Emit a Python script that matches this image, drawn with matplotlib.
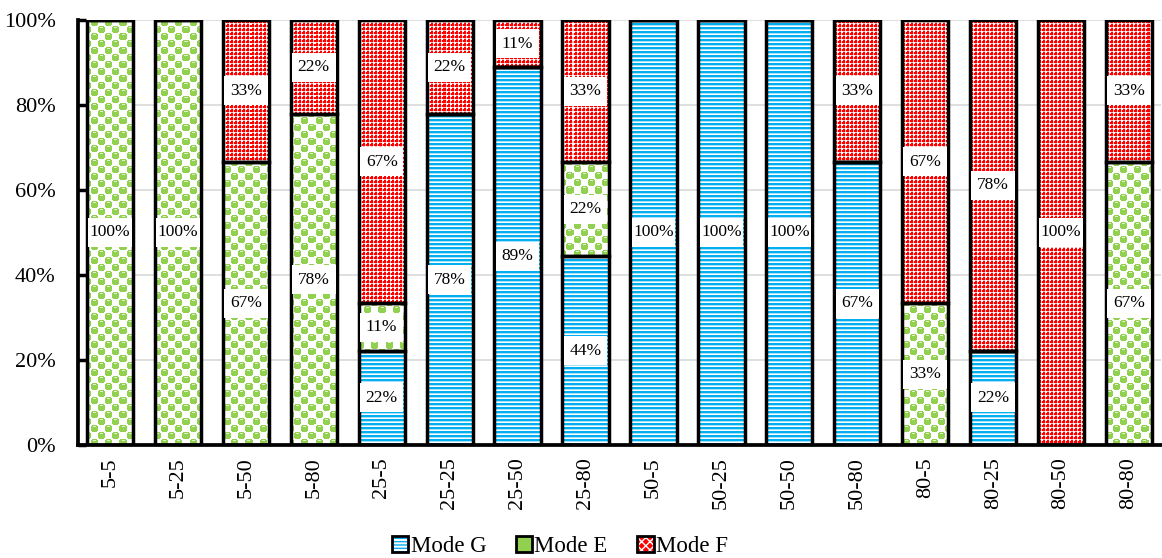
import matplotlib
matplotlib.use("Agg")
import matplotlib.pyplot as plt
from matplotlib.patches import Patch, Rectangle
from matplotlib.colors import to_rgb
from matplotlib.legend_handler import HandlerTuple
import numpy as np

plt.rcParams['font.family'] = ['Liberation Serif', 'DejaVu Serif']

categories = ["5-5", "5-25", "5-50", "5-80", "25-5", "25-25", "25-50", "25-80",
              "50-5", "50-25", "50-50", "50-80", "80-5", "80-25", "80-50", "80-80"]
mode_g = [0, 0, 0, 0, 22.2, 77.8, 88.9, 44.4, 100, 100, 100, 66.7, 0, 22.2, 0, 0]
mode_e = [100, 100, 66.7, 77.8, 11.1, 0, 0, 22.2, 0, 0, 0, 0, 33.3, 0, 0, 66.7]
mode_f = [0, 0, 33.3, 22.2, 66.7, 22.2, 11.1, 33.3, 0, 0, 0, 33.3, 66.7, 77.8, 100, 33.3]
series_names = ["Mode G", "Mode E", "Mode F"]
y_ticks = [0, 20, 40, 60, 80, 100]

BLUE, LBLUE = "#00B0F0", "#A8E0F8"
GREEN, LGREEN = "#92D050", "#DDF0C8"
RED, PINK = "#FF0000", "#FFB8B8"
WHITE = "#FFFFFF"


def tile_blue():
    rows = [BLUE, BLUE, LBLUE, WHITE]
    return np.array([[to_rgb(c)] * 4 for c in rows])


def tile_green():
    # green/white checker; each green square is a rounded bead with a highlight
    n = 14
    t = np.ones((n, n, 3))
    g = np.array(to_rgb(GREEN))
    yy, xx = np.mgrid[0:n, 0:n]
    for ci, cj in [(3, 3), (10, 10)]:
        mask = (np.abs(yy - ci) <= 3) & (np.abs(xx - cj) <= 3) & \
               ((yy - ci) ** 2 + (xx - cj) ** 2 <= 3.9 ** 2)
        t[mask] = g
        t[ci - 2, cj - 1:cj + 2] = to_rgb(LGREEN)
    return t


def tile_red():
    t = np.array([[to_rgb(RED)] * 4 for _ in range(4)])
    t[0:2, 0:2] = to_rgb(WHITE)
    t[0, 2:4] = to_rgb(PINK)
    t[2:4, 0] = to_rgb(PINK)
    return t


tiles = [tile_blue(), tile_green(), tile_red()]

FW, FH = 1162, 558
fig = plt.figure(figsize=(FW / 100, FH / 100), dpi=100)
ax_px = (78, 113, 1083, 425)  # left, bottom, width, height in pixels
ax = fig.add_axes([ax_px[0] / FW, ax_px[1] / FH, ax_px[2] / FW, ax_px[3] / FH])

x = np.arange(len(categories))
width = 0.68
xlim = (-0.47, len(categories) - 0.53)
ylim = (0, 100)

W, H = ax_px[2], ax_px[3]
# texture one pixel per screen pixel, offset by a quarter pixel so that
# nearest-neighbour sampling never lands on a pixel border
px_x = (xlim[1] - xlim[0]) / W
px_y = (ylim[1] - ylim[0]) / H
tex_extent = (xlim[0] - 1.25 * px_x, xlim[1] + 0.75 * px_x,
              ylim[0] - 1.25 * px_y, ylim[1] + 0.75 * px_y)

bottom = np.zeros(len(categories))
all_series = [np.array(mode_g), np.array(mode_e), np.array(mode_f)]

for vals, tile in zip(all_series, tiles):
    th, tw = tile.shape[:2]
    texture = np.tile(tile, ((H + 2) // th + 1, (W + 2) // tw + 1, 1))[:H + 2, :W + 2]
    base = ax.bar(x, vals, width, bottom=bottom, color="none", linewidth=0, zorder=2)
    for b, v in zip(base, vals):
        if v <= 0:
            continue
        im = ax.imshow(texture, extent=tex_extent, origin="upper",
                       interpolation="nearest", resample=False, aspect="auto",
                       zorder=2)
        im.set_clip_path(b)
    ax.bar(x, vals, width, bottom=bottom, fill=False, edgecolor="black",
           linewidth=2.5, zorder=3)
    bottom = bottom + vals

# white boxed value labels
bottom = np.zeros(len(categories))
for vals in all_series:
    for xi, v, b0 in zip(x, vals, bottom):
        if v <= 0:
            continue
        yc = b0 + v / 2
        h = 6.8
        ax.add_patch(Rectangle((xi - width / 2 + 0.02, yc - h / 2), width - 0.04, h,
                               facecolor="white", edgecolor="none", zorder=4))
        ax.text(xi, yc, f"{v:.0f}%", ha="center", va="center", fontsize=12.5,
                zorder=5)
    bottom = bottom + vals

ax.set_xlim(*xlim)
ax.set_ylim(*ylim)
ax.set_yticks(y_ticks)
ax.set_yticklabels([f"{t}%" for t in y_ticks], fontsize=16)
ax.set_xticks(x)
ax.set_xticklabels(categories, rotation=90, fontsize=16)
ax.tick_params(axis="both", direction="in", length=6, width=2.5)
ax.tick_params(axis="x", pad=9)
ax.tick_params(axis="y", pad=16)
ax.yaxis.grid(True, color="#D9D9D9", linewidth=1.2, zorder=0)
ax.set_axisbelow(True)
for side in ("top", "right"):
    ax.spines[side].set_visible(False)
for side in ("left", "bottom"):
    ax.spines[side].set_linewidth(2.7)
    ax.spines[side].set_zorder(6)

legend_styles = [
    dict(facecolor="white", edgecolor=BLUE, hatch="-----"),
    dict(facecolor=GREEN, edgecolor=WHITE, hatch=""),
    dict(facecolor=RED, edgecolor=WHITE, hatch="xxxx"),
]
handles = []
for st in legend_styles:
    p1 = Patch(linewidth=0, **st)
    p2 = Patch(fill=False, edgecolor="black", linewidth=2)
    handles.append((p1, p2))
fig.legend(handles, series_names, handler_map={tuple: HandlerTuple(ndivide=1)},
           loc="lower center", bbox_to_anchor=(0.482, -0.035), ncol=3, frameon=False,
           fontsize=16.5, handlelength=0.7, handleheight=0.7, handletextpad=0.1,
           columnspacing=1.3)

fig.savefig("out.png", dpi=100)
